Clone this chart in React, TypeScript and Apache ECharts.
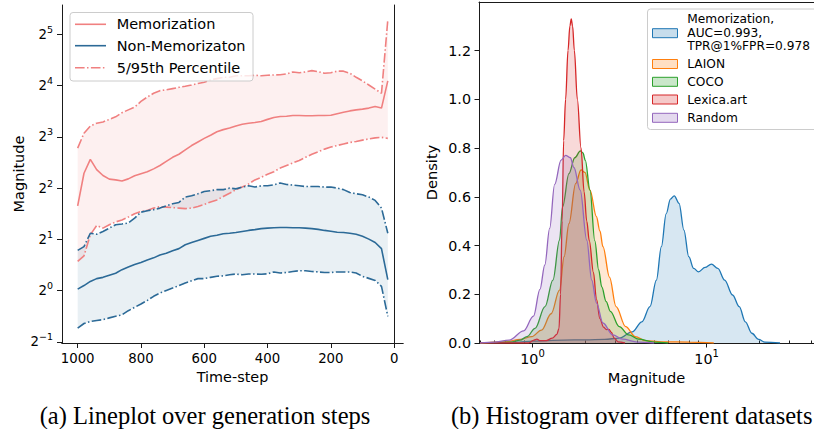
import React, { useEffect, useRef } from 'react';
import * as echarts from 'echarts';

// ---------- (a) Lineplot over generation steps ----------
const timeSteps = [1000, 980, 960, 940, 920, 900, 880, 860, 840, 820, 800, 780, 760, 740, 720, 700, 680, 660, 640, 620, 600, 580, 560, 540, 520, 500, 480, 460, 440, 420, 400, 380, 360, 340, 320, 300, 280, 260, 240, 220, 200, 180, 160, 140, 120, 100, 80, 60, 40, 20];
// values read on the log2 axis (exponent of 2)
const memMeanLog2 = [1.655, 2.29, 2.56, 2.36, 2.245, 2.175, 2.16, 2.14, 2.18, 2.24, 2.28, 2.32, 2.375, 2.44, 2.52, 2.6, 2.66, 2.745, 2.83, 2.9, 2.97, 3.03, 3.1, 3.14, 3.17, 3.21, 3.245, 3.265, 3.28, 3.3, 3.34, 3.375, 3.395, 3.4, 3.415, 3.415, 3.41, 3.41, 3.415, 3.415, 3.42, 3.45, 3.48, 3.505, 3.525, 3.54, 3.56, 3.59, 3.56, 4.09];
const memP95Log2 = [2.78, 3.07, 3.21, 3.265, 3.29, 3.34, 3.39, 3.47, 3.525, 3.58, 3.69, 3.775, 3.85, 3.9, 3.915, 3.94, 3.965, 3.985, 4.01, 4.04, 4.065, 4.11, 4.135, 4.16, 4.16, 4.19, 4.19, 4.19, 4.2, 4.19, 4.2, 4.205, 4.21, 4.225, 4.265, 4.25, 4.265, 4.29, 4.27, 4.24, 4.25, 4.28, 4.28, 4.24, 4.16, 4.09, 4.01, 3.93, 3.85, 5.28];
const memP5Log2 = [0.57, 0.68, 1.09, 1.27, 1.22, 1.285, 1.34, 1.38, 1.435, 1.5, 1.545, 1.565, 1.61, 1.64, 1.63, 1.62, 1.61, 1.6, 1.61, 1.64, 1.68, 1.73, 1.77, 1.835, 1.9, 1.97, 2.02, 2.08, 2.16, 2.21, 2.27, 2.32, 2.39, 2.44, 2.49, 2.54, 2.6, 2.66, 2.71, 2.76, 2.8, 2.83, 2.86, 2.89, 2.91, 2.935, 2.96, 2.98, 2.99, 2.97];
const nonMeanLog2 = [0.03, 0.1, 0.18, 0.235, 0.26, 0.3, 0.34, 0.41, 0.46, 0.51, 0.55, 0.6, 0.64, 0.695, 0.73, 0.78, 0.82, 0.895, 0.94, 0.98, 1.02, 1.06, 1.08, 1.11, 1.12, 1.135, 1.155, 1.175, 1.19, 1.21, 1.22, 1.227, 1.233, 1.233, 1.227, 1.227, 1.22, 1.21, 1.195, 1.175, 1.16, 1.14, 1.135, 1.12, 1.1, 1.06, 1.005, 0.94, 0.82, 0.215];
const nonP95Log2 = [0.785, 0.86, 1.12, 1.1, 1.155, 1.22, 1.285, 1.3, 1.32, 1.415, 1.53, 1.56, 1.58, 1.61, 1.655, 1.695, 1.72, 1.825, 1.85, 1.89, 1.935, 1.95, 1.97, 1.97, 2.0, 1.985, 2.02, 2.045, 2.02, 2.045, 2.045, 2.065, 2.1, 2.07, 2.06, 2.045, 2.03, 2.03, 2.03, 2.02, 2.02, 2.0, 1.97, 1.915, 1.89, 1.87, 1.825, 1.76, 1.61, 1.12];
const nonP5Log2 = [-0.73, -0.64, -0.6, -0.58, -0.565, -0.53, -0.5, -0.47, -0.39, -0.325, -0.26, -0.19, -0.11, -0.045, 0.005, 0.05, 0.1, 0.15, 0.195, 0.235, 0.235, 0.26, 0.28, 0.29, 0.31, 0.325, 0.31, 0.325, 0.325, 0.32, 0.33, 0.365, 0.345, 0.355, 0.375, 0.39, 0.39, 0.375, 0.365, 0.355, 0.355, 0.365, 0.365, 0.365, 0.345, 0.28, 0.24, 0.2, 0.085, -0.5];
const stepTicks = [0, 200, 400, 600, 800, 1000];
const magnitudeTicksLeft = [0.5, 1, 2, 4, 8, 16, 32];
const leftLegend = ['Memorization', 'Non-Memorizaton', '5/95th Percentile'];

// ---------- (b) Histogram over different datasets (KDE) ----------
const kdeNames = ['Memorization', 'LAION', 'COCO', 'Lexica.art', 'Random'];
const kdeColors = ['#1f77b4', '#ff7f0e', '#2ca02c', '#d62728', '#9467bd'];
const kdeFills = ['rgba(31,119,180,0.25)', 'rgba(255,127,14,0.25)', 'rgba(44,160,44,0.25)', 'rgba(214,39,40,0.25)', 'rgba(148,103,189,0.25)'];
const memorizationKde = [[0.5, 0], [0.8, 0.003], [1.0, 0.008], [1.5, 0.012], [2.0, 0.013], [2.6, 0.015], [3.15, 0.02], [3.74, 0.046], [4.25, 0.087], [4.73, 0.149], [5.15, 0.258], [5.5, 0.395], [5.86, 0.53], [6.2, 0.59], [6.52, 0.604], [6.95, 0.573], [7.41, 0.463], [7.9, 0.354], [8.43, 0.306], [8.99, 0.292], [9.8, 0.31], [10.66, 0.324], [11.6, 0.306], [12.7, 0.258], [14.1, 0.197], [15.4, 0.149], [16.7, 0.087], [18.2, 0.04], [19.9, 0.015], [21.6, 0.004], [26.4, 0]];
const laionKde = [[0.5, 0], [0.7, 0.005], [0.85, 0.015], [0.99, 0.026], [1.127, 0.053], [1.28, 0.12], [1.43, 0.217], [1.52, 0.354], [1.62, 0.49], [1.77, 0.654], [1.9, 0.71], [2.0, 0.7], [2.14, 0.627], [2.33, 0.518], [2.44, 0.46], [2.54, 0.395], [2.77, 0.27], [3.02, 0.149], [3.43, 0.067], [3.9, 0.026], [4.44, 0.01], [5.5, 0.005], [8, 0.004], [11, 0]];
const cocoKde = [[0.5, 0], [0.75, 0.004], [0.85, 0.012], [0.93, 0.026], [1.035, 0.06], [1.18, 0.149], [1.31, 0.258], [1.43, 0.422], [1.49, 0.56], [1.62, 0.695], [1.75, 0.76], [1.885, 0.788], [1.95, 0.78], [2.01, 0.75], [2.14, 0.627], [2.28, 0.42], [2.4, 0.3], [2.5, 0.23], [2.65, 0.17], [2.8, 0.13], [3.15, 0.067], [3.58, 0.033], [4.07, 0.016], [5, 0.004], [6, 0]];
const lexicaKde = [[0.5, 0], [0.95, 0], [1.02, 0.012], [1.06, 0.016], [1.1, 0.01], [1.2, 0.01], [1.3, 0.02], [1.38, 0.035], [1.42, 0.06], [1.45, 0.2], [1.48, 0.5], [1.51, 0.83], [1.55, 1.0], [1.6, 1.2], [1.64, 1.3], [1.67, 1.33], [1.7, 1.3], [1.74, 1.2], [1.81, 1.0], [1.9, 0.8], [1.98, 0.62], [2.05, 0.5], [2.12, 0.42], [2.24, 0.29], [2.33, 0.18], [2.44, 0.1], [2.56, 0.065], [2.66, 0.055], [2.75, 0.056], [2.83, 0.045], [2.95, 0.02], [3.1, 0.005], [3.4, 0]];
const randomKde = [[0.5, 0], [0.6, 0.004], [0.735, 0.012], [0.89, 0.05], [1.013, 0.11], [1.104, 0.22], [1.177, 0.32], [1.255, 0.47], [1.34, 0.65], [1.46, 0.75], [1.55, 0.77], [1.65, 0.76], [1.73, 0.72], [1.88, 0.627], [2.05, 0.422], [2.19, 0.258], [2.33, 0.165], [2.54, 0.082], [2.89, 0.033], [3.3, 0.016], [4, 0.004], [5, 0]];
const kdeData = [memorizationKde, laionKde, cocoKde, lexicaKde, randomKde];
const densityTicks = [0, 0.2, 0.4, 0.6, 0.8, 1.0, 1.2];
const magnitudeMajorTicks = [1, 10];
const magnitudeMinorTicks = [0.5, 0.6, 0.7, 0.8, 0.9, 2, 3, 4, 5, 6, 7, 8, 9, 20, 30, 40];

const FONT = 'DejaVu Sans';
const RED = '#f08080';
const BLUE = '#2c6a97';
const DASHDOT = [9.6, 2.4, 1.5, 2.4];
const SPINE = '#1a1a1a';

const toPairs = (vals: number[]) => timeSteps.map((t, i) => [t, Math.pow(2, vals[i])]);

const band = (lower: number[], upper: number[], fill: string) => ({
  type: 'custom',
  xAxisIndex: 0,
  yAxisIndex: 0,
  silent: true,
  z: 1,
  data: [[500, 2]],
  renderItem: (_p: any, api: any) => {
    const pts: number[][] = [];
    timeSteps.forEach((t, i) => pts.push(api.coord([t, Math.pow(2, upper[i])])));
    for (let i = timeSteps.length - 1; i >= 0; i--) pts.push(api.coord([timeSteps[i], Math.pow(2, lower[i])]));
    return { type: 'polygon', shape: { points: pts }, style: { fill } };
  },
});

const line = (vals: number[], color: string, dashed: boolean) => ({
  type: 'line',
  xAxisIndex: 0,
  yAxisIndex: 0,
  data: toPairs(vals),
  symbol: 'none',
  z: 3,
  lineStyle: { color, width: 1.6, type: dashed ? DASHDOT : 'solid' },
});

const spineAxis = (gridIndex: number, position: string) => ({
  gridIndex,
  position,
  type: 'value',
  min: 0,
  max: 1,
  axisLine: { show: true, lineStyle: { color: SPINE, width: 1 } },
  axisTick: { show: false },
  axisLabel: { show: false },
  splitLine: { show: false },
});

const supLabel = (base: string, exp: number) => `{b|${base}}{s|${exp < 0 ? '\u2212' + -exp : exp}}`;

function buildOption(): any {
  const txt = { fontFamily: FONT, color: '#000' };
  const legendLeftY = [24.3, 45.7, 67.7];
  const legendRightY = [33.2, 64, 81.8, 99.5, 117.8];
  const captionFont = '24.5px "Liberation Serif"';
  const graphics: any[] = [
    // left legend
    { type: 'rect', shape: { x: 70, y: 12.5, width: 183, height: 68.5, r: 3 }, style: { fill: 'rgba(255,255,255,0.8)', stroke: '#cccccc', lineWidth: 1 }, z: 10 },
    { type: 'line', shape: { x1: 75, y1: legendLeftY[0], x2: 106, y2: legendLeftY[0] }, style: { stroke: RED, lineWidth: 1.6 }, z: 11 },
    { type: 'line', shape: { x1: 75, y1: legendLeftY[1], x2: 106, y2: legendLeftY[1] }, style: { stroke: BLUE, lineWidth: 1.6 }, z: 11 },
    { type: 'line', shape: { x1: 75, y1: legendLeftY[2], x2: 106, y2: legendLeftY[2] }, style: { stroke: RED, lineWidth: 1.6, lineDash: DASHDOT }, z: 11 },
    ...leftLegend.map((t, i) => ({
      type: 'text', z: 11,
      style: { x: 116.7, y: legendLeftY[i], text: t, font: `14.5px "${FONT}"`, fill: '#000', verticalAlign: 'middle', textVerticalAlign: 'middle' },
    })),
    // right legend
    { type: 'rect', shape: { x: 647.5, y: 9, width: 172, height: 120.5, r: 3 }, style: { fill: 'rgba(255,255,255,0.8)', stroke: '#cccccc', lineWidth: 1 }, z: 10 },
    ...kdeNames.map((n, i) => ({
      type: 'rect', z: 11,
      shape: { x: 652.5, y: legendRightY[i] - 4.5, width: 25, height: 9 },
      style: { fill: kdeFills[i], stroke: kdeColors[i], lineWidth: 1 },
    })),
    ...kdeNames.map((n, i) => ({
      type: 'text', z: 11,
      style: {
        x: 687.3, y: i === 0 ? 32.6 : legendRightY[i],
        text: i === 0 ? 'Memorization,\nAUC=0.993,\nTPR@1%FPR=0.978' : n,
        font: `12.2px "${FONT}"`, lineHeight: 13.7, fill: '#000', verticalAlign: 'middle', textVerticalAlign: 'middle',
      },
    })),
    // captions
    { type: 'text', style: { x: 205, y: 415, text: '(a) Lineplot over generation steps', font: captionFont, fill: '#000', align: 'center', textAlign: 'center', verticalAlign: 'middle', textVerticalAlign: 'middle' } },
    { type: 'text', style: { x: 631.7, y: 415, text: '(b) Histogram over different datasets', font: captionFont, fill: '#000', align: 'center', textAlign: 'center', verticalAlign: 'middle', textVerticalAlign: 'middle' } },
  ];

  return {
    animation: false,
    backgroundColor: '#ffffff',
    grid: [
      { left: 62, top: 5, width: 341, height: 338, show: false },
      { left: 479, top: 2, width: 345, height: 341, show: false },
    ],
    xAxis: [
      {
        gridIndex: 0, type: 'value', inverse: true, min: -28, max: 1049.5,
        axisLine: { show: true, onZero: false, lineStyle: { color: SPINE, width: 1 } },
        axisTick: { show: true, length: 5, lineStyle: { color: SPINE }, customValues: stepTicks },
        axisLabel: { ...txt, fontSize: 13.3, margin: 9, customValues: stepTicks, formatter: (v: number) => String(v) },
        splitLine: { show: false },
        name: 'Time-step', nameLocation: 'middle', nameGap: 27,
        nameTextStyle: { ...txt, fontSize: 14.4 },
      },
      spineAxis(0, 'top'),
      {
        gridIndex: 1, type: 'log', logBase: 10, min: 0.493, max: 41.4,
        axisLine: { show: true, onZero: false, lineStyle: { color: SPINE, width: 1 } },
        axisTick: { show: true, length: 4.5, lineStyle: { color: SPINE }, customValues: magnitudeMajorTicks },
        axisLabel: {
          customValues: magnitudeMajorTicks, margin: 5.5,
          formatter: (v: number) => supLabel('10', Math.round(Math.log10(v))),
          rich: {
            b: { ...txt, fontSize: 14.3, lineHeight: 20 },
            s: { ...txt, fontSize: 10, lineHeight: 10, verticalAlign: 'top' },
          },
        },
        splitLine: { show: false },
        name: 'Magnitude', nameLocation: 'middle', nameGap: 27,
        nameTextStyle: { ...txt, fontSize: 14.6 },
      },
      {
        gridIndex: 1, type: 'log', logBase: 10, min: 0.493, max: 41.4,
        axisLine: { show: false },
        axisTick: { show: true, length: 2.5, lineStyle: { color: SPINE }, customValues: magnitudeMinorTicks },
        axisLabel: { show: false },
        splitLine: { show: false },
      },
      spineAxis(1, 'top'),
    ],
    yAxis: [
      {
        gridIndex: 0, type: 'log', logBase: 2, min: Math.pow(2, -1.02), max: Math.pow(2, 5.57),
        axisLine: { show: true, onZero: false, lineStyle: { color: SPINE, width: 1 } },
        axisTick: { show: true, length: 5, lineStyle: { color: SPINE }, customValues: magnitudeTicksLeft },
        axisLabel: {
          customValues: magnitudeTicksLeft, margin: 9,
          formatter: (v: number) => supLabel('2', Math.round(Math.log2(v))),
          rich: {
            b: { ...txt, fontSize: 13.3, lineHeight: 20 },
            s: { ...txt, fontSize: 9.5, lineHeight: 10, verticalAlign: 'top' },
          },
        },
        splitLine: { show: false },
        name: 'Magnitude', nameLocation: 'middle', nameGap: 36,
        nameTextStyle: { ...txt, fontSize: 14.5 },
      },
      spineAxis(0, 'right'),
      {
        gridIndex: 1, type: 'value', min: 0, max: 1.399,
        axisLine: { show: true, onZero: false, lineStyle: { color: SPINE, width: 1 } },
        axisTick: { show: true, length: 4.5, lineStyle: { color: SPINE }, customValues: densityTicks },
        axisLabel: { ...txt, fontSize: 14.3, margin: 8, customValues: densityTicks, formatter: (v: number) => v.toFixed(1) },
        splitLine: { show: false },
        name: 'Density', nameLocation: 'middle', nameGap: 40,
        nameTextStyle: { ...txt, fontSize: 14.6 },
      },
    ],
    series: [
      band(memP5Log2, memP95Log2, 'rgba(240,128,128,0.12)'),
      band(nonP5Log2, nonP95Log2, 'rgba(44,106,151,0.1)'),
      line(memMeanLog2, RED, false),
      line(memP95Log2, RED, true),
      line(memP5Log2, RED, true),
      line(nonMeanLog2, BLUE, false),
      line(nonP95Log2, BLUE, true),
      line(nonP5Log2, BLUE, true),
      ...kdeData.map((d, i) => ({
        type: 'line',
        name: kdeNames[i],
        xAxisIndex: 2,
        yAxisIndex: 2,
        data: d,
        symbol: 'none',
        smooth: 0.35,
        smoothMonotone: 'x',
        z: 2 + i * 0.01,
        lineStyle: { color: kdeColors[i], width: 1.3 },
        areaStyle: { color: kdeFills[i] },
      })),
    ],
    graphic: graphics,
  };
}

export default function App() {
  const ref = useRef<HTMLDivElement>(null);
  useEffect(() => {
    if (!ref.current) return;
    const chart = echarts.init(ref.current, null, { renderer: 'svg' });
    chart.setOption(buildOption());
    return () => chart.dispose();
  }, []);
  return <div ref={ref} style={{ position: 'absolute', left: 0, top: 0, width: 814, height: 429, background: '#fff' }} />;
}
